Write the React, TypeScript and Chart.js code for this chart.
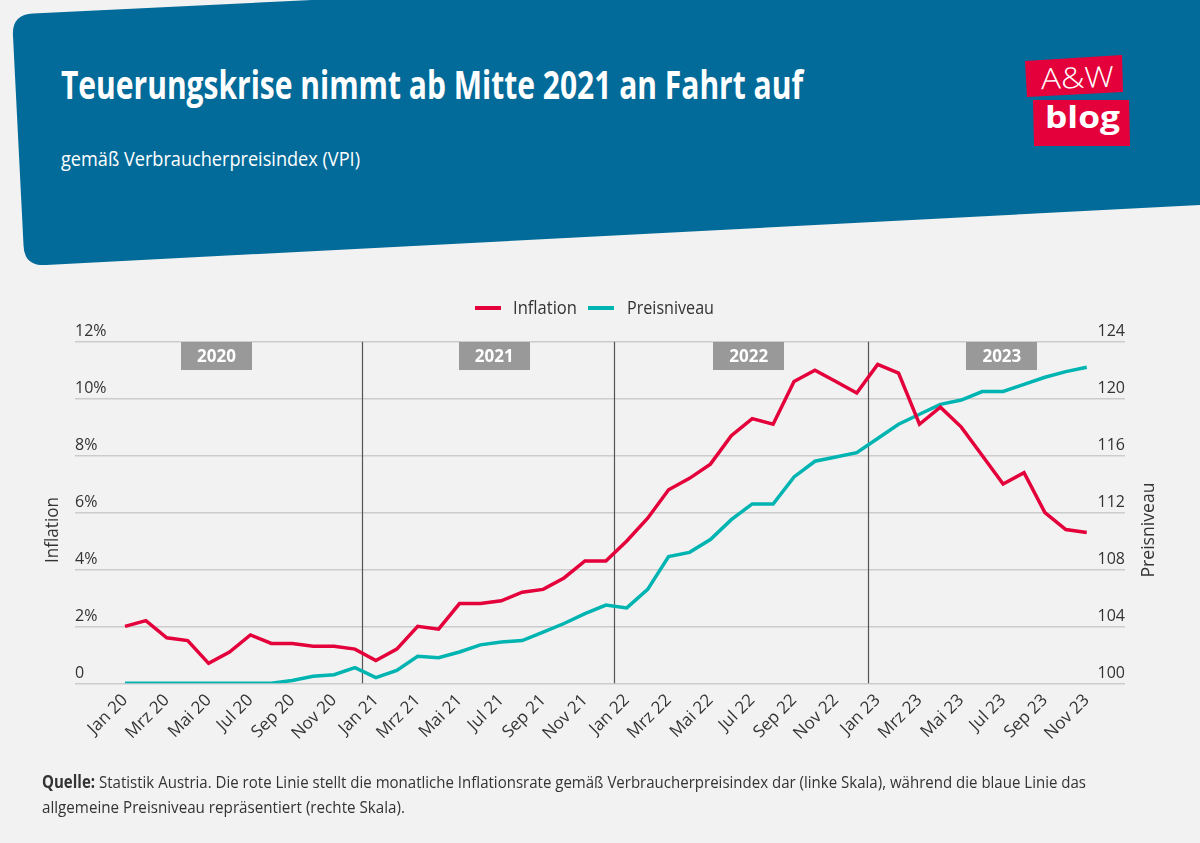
import React, { useEffect, useRef } from 'react';
import { Chart, registerables } from 'chart.js';

Chart.register(...registerables);

// ---------- DATA ----------
const months: string[] = [
  'Jan 20', 'Feb 20', 'Mrz 20', 'Apr 20', 'Mai 20', 'Jun 20', 'Jul 20', 'Aug 20', 'Sep 20', 'Okt 20', 'Nov 20', 'Dez 20',
  'Jan 21', 'Feb 21', 'Mrz 21', 'Apr 21', 'Mai 21', 'Jun 21', 'Jul 21', 'Aug 21', 'Sep 21', 'Okt 21', 'Nov 21', 'Dez 21',
  'Jan 22', 'Feb 22', 'Mrz 22', 'Apr 22', 'Mai 22', 'Jun 22', 'Jul 22', 'Aug 22', 'Sep 22', 'Okt 22', 'Nov 22', 'Dez 22',
  'Jan 23', 'Feb 23', 'Mrz 23', 'Apr 23', 'Mai 23', 'Jun 23', 'Jul 23', 'Aug 23', 'Sep 23', 'Okt 23', 'Nov 23',
];

// Inflation in % (left axis)
const inflation: number[] = [
  2.0, 2.2, 1.6, 1.5, 0.7, 1.1, 1.7, 1.4, 1.4, 1.3, 1.3, 1.2,
  0.8, 1.2, 2.0, 1.9, 2.8, 2.8, 2.9, 3.2, 3.3, 3.7, 4.3, 4.3,
  5.0, 5.8, 6.8, 7.2, 7.7, 8.7, 9.3, 9.1, 10.6, 11.0, 10.6, 10.2,
  11.2, 10.9, 9.1, 9.7, 9.0, 8.0, 7.0, 7.4, 6.0, 5.4, 5.3,
];

// Preisniveau (right axis)
const preisniveau: number[] = [
  100.0, 100.0, 100.0, 100.0, 100.0, 100.0, 100.0, 100.0, 100.2, 100.5, 100.6, 101.1,
  100.4, 100.9, 101.9, 101.8, 102.2, 102.7, 102.9, 103.0, 103.6, 104.2, 104.9, 105.5,
  105.3, 106.6, 108.9, 109.2, 110.1, 111.5, 112.6, 112.6, 114.5, 115.6, 115.9, 116.2,
  117.2, 118.2, 118.9, 119.6, 119.9, 120.5, 120.5, 121.0, 121.5, 121.9, 122.2,
];

// x tick label indices (every second month)
const tickIndices: number[] = [0, 2, 4, 6, 8, 10, 12, 14, 16, 18, 20, 22, 24, 26, 28, 30, 32, 34, 36, 38, 40, 42, 44, 46];

const yearLabels: string[] = ['2020', '2021', '2022', '2023'];

// ---------- STYLE / LAYOUT ----------
const RED = '#e4003a';
const TEAL = '#00b4b1';
const BLUE = '#036b99';
const BG = '#f2f2f2';
const TEXT = '#333333';
const FONT = '"Open Sans", "Noto Sans", sans-serif';

// annotation positions in month-index units
const yearDividers = [11.34, 23.41, 35.53];
const yearCenters = [4.38, 17.66, 29.83, 41.94];

const decorPlugin = {
  id: 'decor',
  beforeDatasetsDraw(chart: any) {
    const { ctx, chartArea: a, scales } = chart;
    const x = scales.x;
    ctx.save();
    ctx.strokeStyle = '#555555';
    ctx.lineWidth = 1.2;
    yearDividers.forEach((d) => {
      const px = Math.round(x.getPixelForValue(d)) + 0.5;
      ctx.beginPath();
      ctx.moveTo(px, a.top);
      ctx.lineTo(px, a.bottom);
      ctx.stroke();
    });
    yearLabels.forEach((t, i) => {
      const cx = x.getPixelForValue(yearCenters[i]);
      ctx.fillStyle = '#999999';
      ctx.fillRect(Math.round(cx - 35.5), Math.round(a.top), 71, 28);
      ctx.fillStyle = '#ffffff';
      ctx.font = `bold 17px ${FONT}`;
      ctx.textAlign = 'center';
      ctx.textBaseline = 'middle';
      ctx.fillText(t, cx, a.top + 15);
    });
    ctx.restore();
  },
  afterDraw(chart: any) {
    const { ctx, chartArea: a } = chart;
    ctx.save();
    // legend
    const ly = 28;
    ctx.fillStyle = RED;
    ctx.fillRect(475, ly - 2, 26, 4);
    ctx.fillStyle = TEAL;
    ctx.fillRect(588, ly - 2, 26, 4);
    ctx.fillStyle = TEXT;
    ctx.font = `18px ${FONT}`;
    ctx.textAlign = 'left';
    ctx.textBaseline = 'middle';
    ctx.fillText(chart.data.datasets[0].label, 513, ly + 1, 64);
    ctx.fillText(chart.data.datasets[1].label, 627, ly + 1, 87);
    // axis titles
    ctx.textAlign = 'center';
    ctx.font = `18px ${FONT}`;
    const cy = 250;
    ctx.save();
    ctx.translate(a.left - 22, cy);
    ctx.rotate(-Math.PI / 2);
    ctx.fillText('Inflation', 0, 0, 66);
    ctx.restore();
    ctx.save();
    ctx.translate(a.right + 24, cy);
    ctx.rotate(-Math.PI / 2);
    ctx.fillText('Preisniveau', 0, 0, 95);
    ctx.restore();
    ctx.restore();
  },
};

function ChartCanvas() {
  const ref = useRef<HTMLCanvasElement>(null);
  useEffect(() => {
    if (!ref.current) return;
    const chart = new Chart(ref.current, {
      type: 'line',
      data: {
        datasets: [
          {
            label: 'Inflation',
            data: inflation.map((y, i) => ({ x: i, y })),
            borderColor: RED,
            backgroundColor: RED,
            borderWidth: 3.5,
            pointRadius: 0,
            tension: 0,
            yAxisID: 'y',
          },
          {
            label: 'Preisniveau',
            data: preisniveau.map((y, i) => ({ x: i, y })),
            borderColor: TEAL,
            backgroundColor: TEAL,
            borderWidth: 3.5,
            pointRadius: 0,
            tension: 0,
            yAxisID: 'y1',
          },
        ],
      },
      options: {
        responsive: false,
        animation: false,
        devicePixelRatio: 1,
        layout: { padding: { left: 75, right: 75, top: 61.7, bottom: 36.7 } },
        plugins: { legend: { display: false }, tooltip: { enabled: false } },
        scales: {
          x: {
            type: 'linear',
            min: -2.39,
            max: 47.83,
            grid: { display: false, drawTicks: false },
            border: { display: false },
            afterBuildTicks: (s: any) => {
              s.ticks = tickIndices.map((v) => ({ value: v }));
            },
            afterFit: (s: any) => {
              s.height = 60;
            },
            ticks: {
              autoSkip: false,
              minRotation: 45,
              maxRotation: 45,
              padding: 7,
              color: TEXT,
              font: { family: FONT, size: 17 },
              callback: (v: any) => months[v as number],
            },
          },
          y: {
            position: 'left',
            min: 0,
            max: 12,
            grid: { color: '#cccccc', lineWidth: 1.5, drawTicks: false },
            border: { display: false },
            ticks: {
              stepSize: 2,
              mirror: true,
              padding: 0,
              labelOffset: -10,
              color: TEXT,
              font: { family: FONT, size: 16 },
              callback: (v: any) => (v === 0 ? '0' : `${v}%`),
            },
          },
          y1: {
            position: 'right',
            min: 100,
            max: 124,
            grid: { display: false, drawTicks: false },
            border: { display: false },
            ticks: {
              stepSize: 4,
              mirror: true,
              padding: 0,
              labelOffset: -10,
              color: TEXT,
              font: { family: FONT, size: 16 },
            },
          },
        },
      } as any,
      plugins: [decorPlugin],
    });
    return () => chart.destroy();
  }, []);
  return (
    <canvas
      ref={ref}
      width={1200}
      height={500}
      style={{ position: 'absolute', left: 0, top: 280, width: 1200, height: 500 }}
    />
  );
}

export default function App() {
  return (
    <div
      style={{
        position: 'absolute',
        left: 0,
        top: 0,
        width: 1200,
        height: 843,
        background: BG,
        overflow: 'hidden',
        fontFamily: FONT,
      }}
    >
      <svg width={1200} height={280} style={{ position: 'absolute', left: 0, top: 0 }}>
        <path
          d="M 13,36 Q 11.5,14.5 33,13.5 L 1220,-44 L 1220,204 L 46,265 Q 24,266.5 23.5,245 Z"
          fill={BLUE}
        />
        <text
          x={61}
          y={99}
          fill="#ffffff"
          fontFamily={FONT}
          fontWeight={700}
          fontSize={40}
          textLength={742}
          lengthAdjust="spacingAndGlyphs"
        >
          Teuerungskrise nimmt ab Mitte 2021 an Fahrt auf
        </text>
        <text
          x={61}
          y={166}
          fill="#ffffff"
          fontFamily={FONT}
          fontWeight={400}
          fontSize={20}
          textLength={299}
          lengthAdjust="spacingAndGlyphs"
        >
          gemäß Verbraucherpreisindex (VPI)
        </text>
        <polygon points="1025,61 1122,55 1123,92 1027,97" fill={RED} />
        <polygon points="1033,100 1129,100 1130,146 1034,146" fill={RED} />
        <text
          x={1041}
          y={88}
          fill="#ffffff"
          fontFamily={FONT}
          fontWeight={300}
          fontSize={29}
          textLength={73}
          lengthAdjust="spacingAndGlyphs"
          transform="rotate(-2 1077 78)"
        >
          A&amp;W
        </text>
        <text
          x={1045}
          y={128}
          fill="#ffffff"
          fontFamily={FONT}
          fontWeight={700}
          fontSize={30}
          textLength={75}
          lengthAdjust="spacingAndGlyphs"
        >
          blog
        </text>
      </svg>
      <ChartCanvas />
      <svg width={1200} height={83} style={{ position: 'absolute', left: 0, top: 760 }}>
        <text
          x={42}
          y={28}
          fill={TEXT}
          fontFamily={FONT}
          fontSize={17}
          textLength={1044}
          lengthAdjust="spacingAndGlyphs"
        >
          <tspan fontWeight={700}>Quelle:</tspan> Statistik Austria. Die rote Linie stellt die monatliche Inflationsrate gemäß Verbraucherpreisindex dar (linke Skala), während die blaue Linie das
        </text>
        <text
          x={42}
          y={53}
          fill={TEXT}
          fontFamily={FONT}
          fontSize={17}
          textLength={363}
          lengthAdjust="spacingAndGlyphs"
        >
          allgemeine Preisniveau repräsentiert (rechte Skala).
        </text>
      </svg>
    </div>
  );
}
